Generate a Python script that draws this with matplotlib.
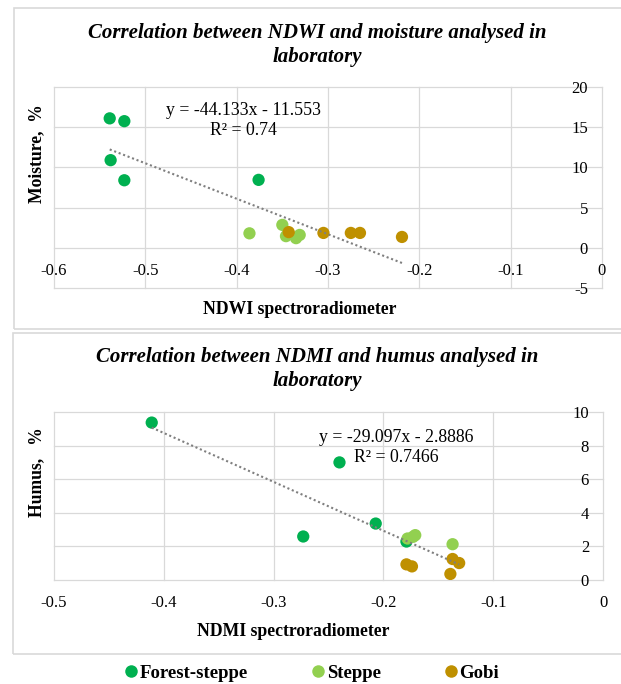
"""
NDWI / NDMI vs laboratory moisture and humus, two scatter panels.
"""

import matplotlib
matplotlib.use("Agg")
import matplotlib.pyplot as plt
from matplotlib.lines import Line2D
from matplotlib.patches import Rectangle
import numpy as np

plt.rcParams["font.family"] = ["Liberation Serif", "DejaVu Serif"]

# --- top panel: NDWI vs moisture ---
ndwi_forest = [-0.539, -0.523, -0.538, -0.523, -0.376]
moist_forest = [16.1, 15.75, 10.9, 8.4, 8.45]
ndwi_steppe = [-0.386, -0.350, -0.346, -0.335, -0.331]
moist_steppe = [1.8, 2.85, 1.45, 1.2, 1.6]
ndwi_gobi = [-0.343, -0.305, -0.275, -0.265, -0.219]
moist_gobi = [1.95, 1.85, 1.85, 1.85, 1.35]
ndwi_slope, ndwi_icpt = -44.133, -11.553
ndwi_eq = "y = -44.133x - 11.553\nR² = 0.74"
ndwi_xticks = [-0.6, -0.5, -0.4, -0.3, -0.2, -0.1, 0]
ndwi_xlabels = ["-0.6", "-0.5", "-0.4", "-0.3", "-0.2", "-0.1", "0"]
moist_yticks = [-5, 0, 5, 10, 15, 20]
moist_ylabels = ["-5", "0", "5", "10", "15", "20"]

# --- bottom panel: NDMI vs humus ---
ndmi_forest = [-0.411, -0.240, -0.207, -0.273, -0.179]
humus_forest = [9.37, 7.0, 3.36, 2.59, 2.29]
ndmi_steppe = [-0.178, -0.173, -0.171, -0.137]
humus_steppe = [2.47, 2.57, 2.67, 2.13]
ndmi_gobi = [-0.179, -0.174, -0.137, -0.131, -0.139]
humus_gobi = [0.93, 0.81, 1.25, 1.01, 0.36]
ndmi_slope, ndmi_icpt = -29.097, -2.8886
ndmi_eq = "y = -29.097x - 2.8886\nR² = 0.7466"
ndmi_xticks = [-0.5, -0.4, -0.3, -0.2, -0.1, 0]
ndmi_xlabels = ["-0.5", "-0.4", "-0.3", "-0.2", "-0.1", "0"]
humus_yticks = [0, 2, 4, 6, 8, 10]
humus_ylabels = ["0", "2", "4", "6", "8", "10"]

groups = ["Forest-steppe", "Steppe", "Gobi"]
colors = ["#00B050", "#92D050", "#BF9000"]

W, H = 621, 684
GRID = "#D9D9D9"


def fx(px):
    return px / W


def fy(py):
    return 1 - py / H


def panel(fig, box, xs, ys, slope, icpt, eq, eq_xy, xticks, xlabels, yticks, ylabels):
    ax = fig.add_axes(box)
    ax.set_xlim(xticks[0], xticks[-1])
    ax.set_ylim(yticks[0], yticks[-1])
    ax.set_xticks(xticks)
    ax.set_xticklabels(xlabels)
    ax.set_yticks(yticks)
    ax.set_yticklabels(ylabels)
    # axes cross at zero, labels sit next to those lines
    ax.spines["bottom"].set_position(("data", 0))
    ax.spines["left"].set_position(("data", 0))
    for s in ax.spines.values():
        s.set_visible(False)
    ax.tick_params(axis="x", length=0, pad=11, labelsize=12)
    ax.tick_params(axis="y", length=0, pad=10, labelsize=12)
    ax.grid(True, color=GRID, linewidth=0.9)
    ax.set_axisbelow(True)
    for ln in ax.get_xgridlines() + ax.get_ygridlines():
        ln.set_clip_on(False)

    for (x, y), c in zip(zip(xs, ys), colors):
        ax.scatter(x, y, s=78, color=c, edgecolors="none", zorder=3)

    all_x = np.concatenate([np.asarray(x) for x in xs])
    tx = np.array([all_x.min(), all_x.max()])
    ax.plot(tx, slope * tx + icpt, linestyle=(0, (1, 1.3)), color="#7F7F7F",
            linewidth=1.5, zorder=4)
    ax.text(eq_xy[0], eq_xy[1], eq, ha="center", va="center", fontsize=12.8,
            linespacing=1.2)
    return ax


fig = plt.figure(figsize=(6.21, 6.84), dpi=100)

# panel frames
fig.add_artist(Rectangle((fx(14), fy(329)), fx(W + 5 - 14), fy(8) - fy(329),
                         transform=fig.transFigure, fill=False, edgecolor=GRID, linewidth=1.2))
fig.add_artist(Rectangle((fx(13), fy(654)), fx(W + 5 - 13), fy(333) - fy(654),
                         transform=fig.transFigure, fill=False, edgecolor=GRID, linewidth=1.2))

panel(fig, [fx(54), fy(288), fx(602 - 54), fy(87) - fy(288)],
      [ndwi_forest, ndwi_steppe, ndwi_gobi], [moist_forest, moist_steppe, moist_gobi],
      ndwi_slope, ndwi_icpt, ndwi_eq, (-0.393, 15.8),
      ndwi_xticks, ndwi_xlabels, moist_yticks, moist_ylabels)

panel(fig, [fx(54), fy(580), fx(603 - 54), fy(412) - fy(580)],
      [ndmi_forest, ndmi_steppe, ndmi_gobi], [humus_forest, humus_steppe, humus_gobi],
      ndmi_slope, ndmi_icpt, ndmi_eq, (-0.1885, 7.9),
      ndmi_xticks, ndmi_xlabels, humus_yticks, humus_ylabels)

# titles and axis titles
fig.text(fx(317), fy(45), "Correlation between NDWI and moisture analysed in\nlaboratory",
         ha="center", va="center", fontsize=15, fontweight="bold", style="italic",
         linespacing=1.25)
fig.text(fx(317), fy(369), "Correlation between NDMI and humus analysed in\nlaboratory",
         ha="center", va="center", fontsize=15, fontweight="bold", style="italic",
         linespacing=1.25)
fig.text(fx(37), fy(154), "Moisture,  %", rotation=90, ha="center", va="center",
         fontsize=12.7, fontweight="bold")
fig.text(fx(37), fy(472), "Humus,   %", rotation=90, ha="center", va="center",
         fontsize=12.7, fontweight="bold")
fig.text(fx(300), fy(310), "NDWI spectroradiometer", ha="center", va="center",
         fontsize=12.7, fontweight="bold")
fig.text(fx(293), fy(632), "NDMI spectroradiometer", ha="center", va="center",
         fontsize=12.7, fontweight="bold")

handles = [Line2D([], [], marker="o", linestyle="none", color=c, markersize=9,
                  markeredgewidth=0) for c in colors]
fig.legend(handles, groups, loc="center", bbox_to_anchor=(fx(312), fy(673)), ncol=3,
           frameon=False, prop={"size": 13.5, "weight": "bold"}, handlelength=0.65,
           handletextpad=0.15, columnspacing=3.4, borderpad=0, borderaxespad=0)

plt.savefig("out.png", dpi=100)
